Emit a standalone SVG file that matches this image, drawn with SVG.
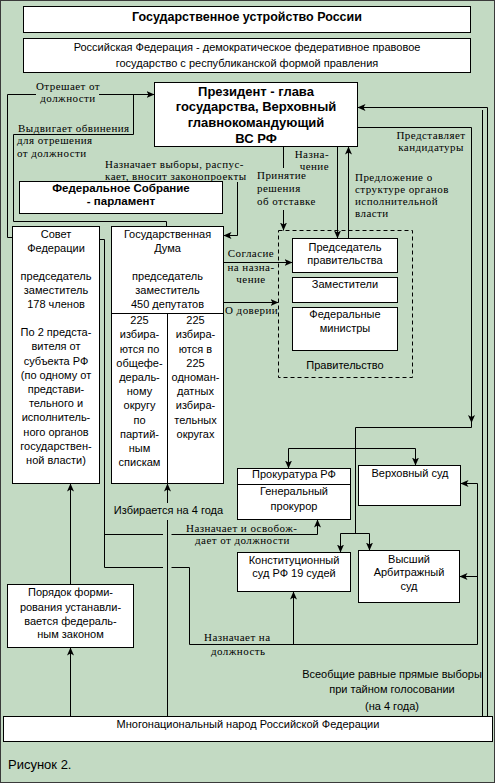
<svg xmlns="http://www.w3.org/2000/svg" width="495" height="783" viewBox="0 0 495 783">
<style>
.bx{fill:#fff;stroke:#000;stroke-width:1}
.s{font-family:"Liberation Sans",Arial,sans-serif;font-size:11px;fill:#000;text-anchor:middle}
.b{font-family:"Liberation Sans",Arial,sans-serif;font-weight:bold;fill:#000;text-anchor:middle}
.r{font-family:"Liberation Serif","Times New Roman",serif;font-size:11px;letter-spacing:0.45px;fill:#000}
.c{text-anchor:middle}
.e{text-anchor:end}
.ln{fill:none;stroke:#000;stroke-width:1}
.ar{marker-end:url(#ah)}
</style>
<defs>
<marker id="ah" markerUnits="userSpaceOnUse" markerWidth="8" markerHeight="7" refX="8" refY="3.5" orient="auto">
<path d="M0,0 L8,3.5 L0,7 L2,3.5 z" fill="#000"/>
</marker>
</defs>
<rect x="0.5" y="0.5" width="494" height="782" fill="#c3dac3" stroke="#3a3a3a"/>

<g id="title">
<rect class="bx" x="23.5" y="6.5" width="447" height="26"/>
<text class="b" x="247" y="21" font-size="12.5">Государственное устройство России</text>
</g>
<g id="federation">
<rect class="bx" x="23.5" y="38.5" width="447" height="34"/>
<text class="s" x="247" y="50.5">Российская Федерация - демократическое федеративное правовое</text>
<text class="s" x="247" y="66.5">государство с республиканской формой правления</text>
</g>
<g id="president">
<rect class="bx" x="154.5" y="82.5" width="203" height="64"/>
<text class="b" x="256" y="95.5" font-size="13">Президент - глава</text>
<text class="b" x="256" y="111" font-size="13">государства, Верховный</text>
<text class="b" x="256" y="127" font-size="13">главнокомандующий</text>
<text class="b" x="256" y="143" font-size="13">ВС РФ</text>
</g>
<g id="assembly">
<rect class="bx" x="19.5" y="181.5" width="203" height="32"/>
<text class="b" x="121" y="192" font-size="11.5">Федеральное Собрание</text>
<text class="b" x="121" y="205" font-size="11.5">- парламент</text>
</g>
<g id="council">
<rect class="bx" x="12.5" y="226.5" width="87" height="257"/>
<text class="s" x="56" y="238">Совет</text>
<text class="s" x="56" y="252">Федерации</text>
<text class="s" x="56" y="280">председатель</text>
<text class="s" x="56" y="294">заместитель</text>
<text class="s" x="56" y="308">178 членов</text>
<text class="s" x="56" y="336">По 2 предста-</text>
<text class="s" x="56" y="350">вителя от</text>
<text class="s" x="56" y="364.5">субъекта РФ</text>
<text class="s" x="56" y="378.5">(по одному от</text>
<text class="s" x="56" y="393">представи-</text>
<text class="s" x="56" y="407">тельного и</text>
<text class="s" x="56" y="421">исполнитель-</text>
<text class="s" x="56" y="435.5">ного органов</text>
<text class="s" x="56" y="449.5">государствен-</text>
<text class="s" x="56" y="464">ной власти)</text>
</g>
<g id="duma">
<rect class="bx" x="111.5" y="226.5" width="112" height="257"/>
<path class="ln" d="M111.5,313.5 H223.5 M167.5,313.5 V483.5"/>
<text class="s" x="167.5" y="238">Государственная</text>
<text class="s" x="167.5" y="252">Дума</text>
<text class="s" x="167.5" y="280">председатель</text>
<text class="s" x="167.5" y="294">заместитель</text>
<text class="s" x="167.5" y="308">450 депутатов</text>
<text class="s" x="139.5" y="324">225</text>
<text class="s" x="139.5" y="338">избира-</text>
<text class="s" x="139.5" y="352.5">ются по</text>
<text class="s" x="139.5" y="366.5">общефе-</text>
<text class="s" x="139.5" y="381">дераль-</text>
<text class="s" x="139.5" y="395">ному</text>
<text class="s" x="139.5" y="409">округу</text>
<text class="s" x="139.5" y="423.5">по</text>
<text class="s" x="139.5" y="437.5">партий-</text>
<text class="s" x="139.5" y="452">ным</text>
<text class="s" x="139.5" y="466">спискам</text>
<text class="s" x="195.5" y="324">225</text>
<text class="s" x="195.5" y="338">избира-</text>
<text class="s" x="195.5" y="352.5">ются в</text>
<text class="s" x="195.5" y="366.5">225</text>
<text class="s" x="195.5" y="381">одноман-</text>
<text class="s" x="195.5" y="395">датных</text>
<text class="s" x="195.5" y="409">избира-</text>
<text class="s" x="195.5" y="423.5">тельных</text>
<text class="s" x="195.5" y="437.5">округах</text>
</g>
<g id="government">
<rect x="278.5" y="230.5" width="134" height="147" fill="none" stroke="#000" stroke-dasharray="4,3"/>
<text class="s" x="345" y="368.5" font-size="12.5">Правительство</text>
</g>
<g id="chairman">
<rect class="bx" x="292.5" y="238.5" width="105" height="34"/>
<text class="s" x="345" y="251">Председатель</text>
<text class="s" x="345" y="264">правительства</text>
</g>
<g id="deputies">
<rect class="bx" x="292.5" y="277.5" width="105" height="25"/>
<text class="s" x="345" y="288">Заместители</text>
</g>
<g id="ministers">
<rect class="bx" x="292.5" y="307.5" width="105" height="43"/>
<text class="s" x="345" y="318">Федеральные</text>
<text class="s" x="345" y="332">министры</text>
</g>
<g id="prosecutor">
<rect class="bx" x="237.5" y="468.5" width="113" height="51"/>
<path class="ln" d="M237.5,484.5 H350.5"/>
<text class="s" x="294" y="478">Прокуратура РФ</text>
<text class="s" x="294" y="495">Генеральный</text>
<text class="s" x="294" y="510">прокурор</text>
</g>
<g id="supreme">
<rect class="bx" x="358.5" y="465.5" width="102" height="40"/>
<text class="s" x="410" y="477">Верховный суд</text>
</g>
<g id="constitutional">
<rect class="bx" x="237.5" y="552.5" width="113" height="39"/>
<text class="s" x="294" y="563.5">Конституционный</text>
<text class="s" x="294" y="576.5">суд РФ 19 судей</text>
</g>
<g id="arbitration">
<rect class="bx" x="358.5" y="550.5" width="101" height="52"/>
<text class="s" x="409" y="562.5">Высший</text>
<text class="s" x="409" y="576">Арбитражный</text>
<text class="s" x="409" y="590">суд</text>
</g>
<g id="order">
<rect class="bx" x="7.5" y="584.5" width="126" height="63"/>
<text class="s" x="70.5" y="596">Порядок форми-</text>
<text class="s" x="70.5" y="611">рования устанавли-</text>
<text class="s" x="70.5" y="625">вается федераль-</text>
<text class="s" x="70.5" y="638">ным законом</text>
</g>
<g id="people">
<rect class="bx" x="3.5" y="716.5" width="489" height="25"/>
<text class="s" x="248" y="728">Многонациональный народ Российской Федерации</text>
</g>

<g id="connectors">
<path class="ln" d="M12.5,237.5 H7.5 V94.5 H36"/>
<path class="ln ar" d="M99,94.5 H154.5"/>
<path class="ln" d="M166.5,226.5 V221.5 H13.5 V134.5 H133.5 V94.5"/>
<path class="ln ar" d="M237.5,182 V235.5 H223.5"/>
<path class="ln ar" d="M337.5,146.5 V238.5"/>
<path class="ln" d="M283.5,146.5 V168"/>
<path class="ln ar" d="M283.5,210 V230.5"/>
<path class="ln ar" d="M348.5,238.5 V146.5"/>
<path class="ln ar" d="M357.5,127.5 H471.5 V423"/>
<path class="ln" d="M471.5,422 V427.5 H355.5 V533.5"/>
<path class="ln" d="M288.5,448.5 H415.5"/>
<path class="ln ar" d="M288.5,448.5 V468.5"/>
<path class="ln ar" d="M415.5,448.5 V465.5"/>
<path class="ln" d="M340.5,533.5 H369.5"/>
<path class="ln ar" d="M340.5,533.5 V552.5"/>
<path class="ln ar" d="M369.5,533.5 V550.5"/>
<path class="ln ar" d="M487.5,716.5 V107.5 H357.5"/>
<path class="ln" d="M482.5,110 V716.5"/>
<path class="ln ar" d="M223.5,262.5 H292.5"/>
<path class="ln ar" d="M223.5,302.5 H278.5"/>
<path class="ln" d="M99.5,239.5 H104.5 V567.5"/>
<path class="ln" d="M104.5,534.5 H163"/>
<path class="ln ar" d="M171.5,534.5 H317.5 V519.5"/>
<path class="ln" d="M104.5,567.5 H163"/>
<path class="ln ar" d="M171.5,567.5 H189.5 V644.5 H477.5 V483.5 H460.5"/>
<path class="ln ar" d="M293.5,644.5 V591.5"/>
<path class="ln ar" d="M477.5,576.5 H459.5"/>
<path class="ln ar" d="M167.5,503 V483.5"/>
<path class="ln" d="M167.5,520 V716.5"/>
<path class="ln ar" d="M70.5,716.5 V647.5"/>
<path class="ln ar" d="M70.5,584.5 V483.5"/>
</g>

<g id="labels">
<text class="r c" x="68" y="90">Отрешает от</text>
<text class="r c" x="68" y="102">должности</text>
<text class="r" x="18" y="131.5">Выдвигает обвинения</text>
<text class="r" x="17" y="144">для отрешения</text>
<text class="r" x="17" y="157">от должности</text>
<text class="r" x="105" y="168">Назначает выборы, распус-</text>
<text class="r" x="105" y="180">кает, вносит законопроекты</text>
<text class="r e" x="329" y="157.5">Назна-</text>
<text class="r e" x="329" y="169.5">чение</text>
<text class="r" x="257" y="179">Принятие</text>
<text class="r" x="257" y="191.5">решения</text>
<text class="r" x="257" y="204.5">об отставке</text>
<text class="r c" x="431" y="138.5">Представляет</text>
<text class="r c" x="431" y="150.5">кандидатуры</text>
<text class="r" x="355" y="181">Предложение о</text>
<text class="r" x="355" y="193">структуре органов</text>
<text class="r" x="355" y="205">исполнительной</text>
<text class="r" x="355" y="217">власти</text>
<text class="r c" x="251" y="257">Согласие</text>
<text class="r c" x="251" y="270.5">на назна-</text>
<text class="r c" x="251" y="283">чение</text>
<text class="r" x="225" y="314">О доверии</text>
<text class="r" x="186" y="531.5">Назначает и освобож-</text>
<text class="r" x="195" y="544">дает от должности</text>
<text class="r" x="204" y="641">Назначает на</text>
<text class="r" x="211" y="655">должность</text>
<text class="s" x="168.5" y="514">Избирается на 4 года</text>
<text class="s" x="392" y="678">Всеобщие равные прямые выборы</text>
<text class="s" x="392" y="693">при тайном голосовании</text>
<text class="s" x="392" y="710">(на 4 года)</text>
<text x="8" y="769" font-family="Liberation Sans, Arial, sans-serif" font-size="13" fill="#000">Рисунок 2.</text>
</g>
</svg>
